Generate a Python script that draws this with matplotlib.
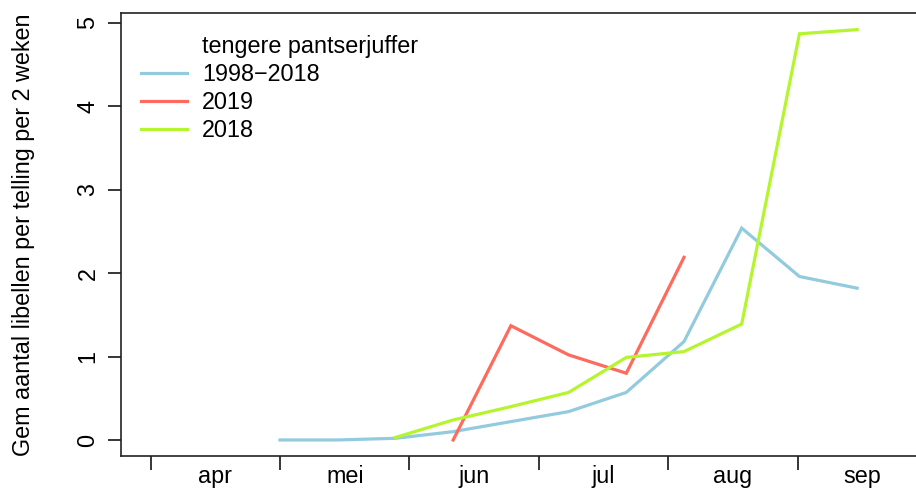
import matplotlib
matplotlib.use("Agg")
import matplotlib.pyplot as plt
from matplotlib.lines import Line2D

plt.rcParams['font.family'] = ['Liberation Sans', 'DejaVu Sans']

# ---- data ----
periode = list(range(11))            # two-week periods starting 1 May
maanden = ['apr', 'mei', 'jun', 'jul', 'aug', 'sep']
gemiddeld_1998_2018 = [0.0, 0.0, 0.02, 0.10, 0.22, 0.34, 0.57, 1.18, 2.54, 1.96, 1.82]
periode_2019 = [3, 4, 5, 6, 7]
waarden_2019 = [0.0, 1.37, 1.02, 0.80, 2.19]
periode_2018 = [2, 3, 4, 5, 6, 7, 8, 9, 10]
waarden_2018 = [0.03, 0.24, 0.40, 0.57, 0.99, 1.06, 1.39, 4.87, 4.92]
yticks = [0, 1, 2, 3, 4, 5]

kleur_blauw = '#92CBDD'
kleur_rood = '#FF6A5E'
kleur_groen = '#B5F52E'

W, H = 916, 488
fig = plt.figure(figsize=(W / 100, H / 100), dpi=100)
left, right, top, bottom = 121, 931, 13.2, 456.4
ax = fig.add_axes([left / W, (H - bottom) / H, (right - left) / W, (bottom - top) / H])

per_maand = 129.4 / 57.7
maand_grens = [-per_maand + per_maand * i for i in range(6)]
maand_mid = [g + per_maand / 2 for g in maand_grens]

lw = 2.3
ax.plot(periode, gemiddeld_1998_2018, color=kleur_blauw, lw=lw, solid_joinstyle='miter')
ax.plot(periode_2019, waarden_2019, color=kleur_rood, lw=lw, solid_joinstyle='miter')
ax.plot(periode_2018, waarden_2018, color=kleur_groen, lw=lw, solid_joinstyle='miter')

ax.set_xlim(-2.756, 11.28)
ax.set_ylim(-0.197, 5.117)

fs = 16.8
ax.set_xticks(maand_grens)
ax.set_xticklabels([])
ax.set_xticks(maand_mid, minor=True)
ax.set_xticklabels(maanden, minor=True, fontsize=fs)
ax.tick_params(axis='x', which='major', length=10, width=1.1, direction='out')
ax.tick_params(axis='x', which='minor', length=0, pad=6.5)

ax.set_yticks(yticks)
ax.set_yticklabels([str(v) for v in yticks], rotation=90, va='center', fontsize=fs)
ax.tick_params(axis='y', length=9.5, width=1.1, pad=6)

for s in ax.spines.values():
    s.set_linewidth(1.2)
    s.set_color('#222222')

ax.set_ylabel('Gem aantal libellen per telling per 2 weken', fontsize=fs, labelpad=30)

handles = [Line2D([], [], color='none', lw=0),
           Line2D([], [], color=kleur_blauw, lw=lw),
           Line2D([], [], color=kleur_rood, lw=lw),
           Line2D([], [], color=kleur_groen, lw=lw)]
labels = ['tengere pantserjuffer', '1998\u22122018', '2019', '2018']
ax.legend(handles, labels, loc='upper left', frameon=False, fontsize=fs,
          handlelength=1.95, handletextpad=0.65, labelspacing=0.22,
          bbox_to_anchor=(-0.004, 1.004), borderaxespad=0.6)

fig.savefig('out.png', dpi=100)
